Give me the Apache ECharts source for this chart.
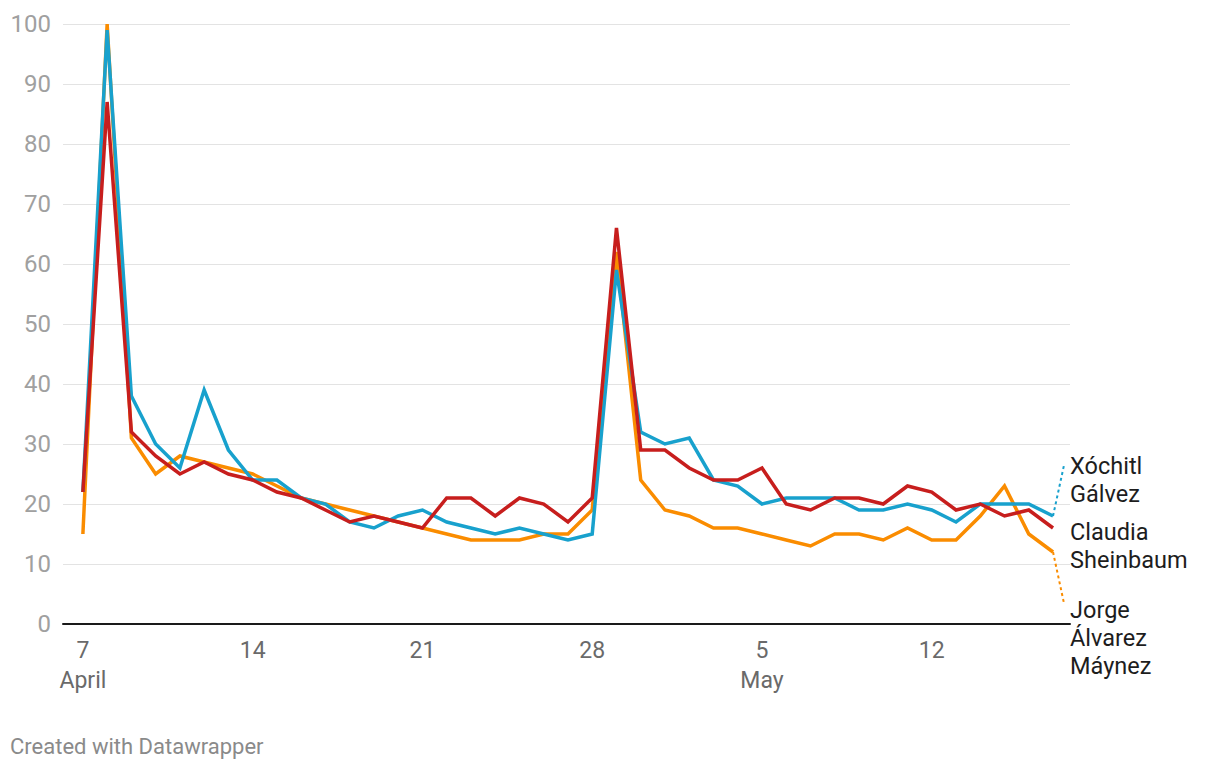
<!DOCTYPE html>
<html>
<head>
<meta charset="utf-8">
<script src="https://cdn.jsdelivr.net/npm/echarts@6/dist/echarts.min.js"></script>
<style>
  html, body { margin: 0; padding: 0; background: #fff; }
  #chart { width: 1220px; height: 770px; }
</style>
</head>
<body>
<div id="chart"></div>
<script>
// Days from April 7 to May 17, 2024 (index 0 = April 7)
const startDate = new Date(2024, 3, 7);
const dayCount = 41;
const dates = [];
for (let i = 0; i < dayCount; i++) {
  const d = new Date(startDate.getTime() + i * 86400000);
  dates.push(d);
}

// Tick labels on the x axis (day index -> label)
const tickDays = [0, 7, 14, 21, 28, 35];
const tickLabels = ['7\nApril', '14', '21', '28', '5\nMay', '12'];

// Series values
const jorge = [15, 100, 31, 25, 28, 27, 26, 25, 23, 21, 20, 19, 18, 17, 16, 15, 14, 14, 14, 15, 15, 19, 62, 24, 19, 18, 16, 16, 15, 14, 13, 15, 15, 14, 16, 14, 14, 18, 23, 15, 12];
const xochitl = [22, 99, 38, 30, 26, 39, 29, 24, 24, 21, 20, 17, 16, 18, 19, 17, 16, 15, 16, 15, 14, 15, 59, 32, 30, 31, 24, 23, 20, 21, 21, 21, 19, 19, 20, 19, 17, 20, 20, 20, 18];
const claudia = [22, 87, 32, 28, 25, 27, 25, 24, 22, 21, 19, 17, 18, 17, 16, 21, 21, 18, 21, 20, 17, 21, 66, 29, 29, 26, 24, 24, 26, 20, 19, 21, 21, 20, 23, 22, 19, 20, 18, 19, 16];

const yTicks = [0, 10, 20, 30, 40, 50, 60, 70, 80, 90, 100];

// Series names / labels
const names = ['Jorge Álvarez Máynez', 'Xóchitl Gálvez', 'Claudia Sheinbaum'];
const endLabels = ['Jorge\nÁlvarez\nMáynez', 'Xóchitl\nGálvez', 'Claudia\nSheinbaum'];
const colors = ['#fa8c00', '#18a1cd', '#c71e1d'];

// layout: where the label anchor sits (in data units) for connector lines
const labelAnchorX = 40.46;
const labelOffsets = [[17, 86], [17, -36], [17, 18]];
const connectorTargets = [3.3, 26.6, null];

const allValues = [jorge, xochitl, claudia];

const series = [];
allValues.forEach((vals, si) => {
  series.push({
    name: names[si],
    type: 'line',
    data: vals.map((v, i) => [i, v]),
    symbol: 'none',
    silent: true,
    z: 3 + si,
    lineStyle: { color: colors[si], width: 3.5, join: 'miter' },
    endLabel: {
      show: true,
      formatter: endLabels[si],
      distance: 0,
      offset: labelOffsets[si],
      align: 'left',
      verticalAlign: 'middle',
      fontFamily: 'Roboto',
      fontSize: 23.5,
      lineHeight: 28,
      color: '#1d1d1d'
    },
    animation: false
  });
  if (connectorTargets[si] !== null) {
    const last = vals.length - 1;
    series.push({
      type: 'line',
      data: [[last, vals[last]], [labelAnchorX, connectorTargets[si]]],
      symbol: 'none',
      silent: true,
      z: 2,
      lineStyle: { color: colors[si], width: 2, type: [3, 3] },
      animation: false
    });
  }
});

const chart = echarts.init(document.getElementById('chart'), null, { renderer: 'svg' });
chart.setOption({
  animation: false,
  backgroundColor: '#fff',
  textStyle: { fontFamily: 'Roboto' },
  title: {
    text: 'Created with Datawrapper',
    left: 5,
    top: 730,
    textStyle: { fontFamily: 'Roboto', fontSize: 22, fontWeight: 'normal', color: '#8a8a8a' }
  },
  grid: { left: 63, right: 150, top: 24, bottom: 146, containLabel: false },
  xAxis: {
    type: 'value',
    min: -0.82,
    max: 40.7,
    splitLine: { show: false },
    axisTick: { show: false },
    axisLine: { show: true, onZero: true, lineStyle: { color: '#1a1a1a', width: 2 } },
    axisLabel: {
      customValues: tickDays,
      formatter: (v) => tickLabels[tickDays.indexOf(Math.round(v))] || '',
      margin: 11,
      fontFamily: 'Roboto',
      fontSize: 23,
      lineHeight: 30,
      color: '#6a6a6a',
      verticalAlign: 'top',
      align: 'center'
    }
  },
  yAxis: {
    type: 'value',
    min: yTicks[0],
    max: yTicks[yTicks.length - 1],
    interval: 10,
    axisLine: { show: false },
    axisTick: { show: false },
    splitLine: { show: true, lineStyle: { color: '#e3e3e3', width: 1 } },
    axisLabel: {
      margin: 12,
      fontFamily: 'Roboto',
      fontSize: 24,
      color: '#a0a0a0'
    }
  },
  series: series
});
</script>
</body>
</html>
